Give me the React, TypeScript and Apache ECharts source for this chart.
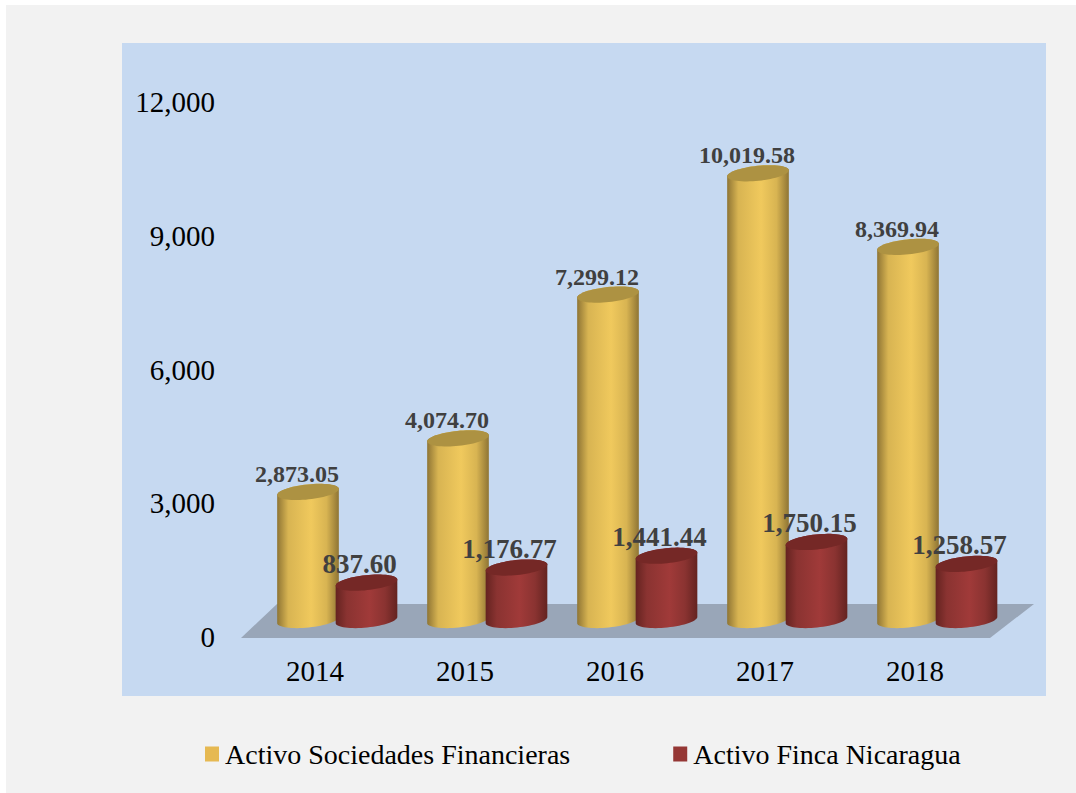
import React, { useEffect, useRef } from "react";
import * as echarts from "echarts";

const years = ["2014", "2015", "2016", "2017", "2018"];
const sociedades = [2873.05, 4074.7, 7299.12, 10019.58, 8369.94];
const finca = [837.6, 1176.77, 1441.44, 1750.15, 1258.57];
const yTicks = { max: 12000, step: 3000 };

const SERIF = "'Liberation Serif', 'Times New Roman', serif";
const DEPTH = 17; // how far the cylinders stand behind the axis plane
const RX = 31;
const RY = 7.5;
const TILT = (6 * Math.PI) / 180;

const fmt = (v: number) =>
  v.toLocaleString("en-US", { minimumFractionDigits: 2, maximumFractionDigits: 2 });

// Point on a tilted ellipse; t = 0 is the left end, t = PI the right end, t = PI/2 the lower rim.
function rim(cx: number, cy: number, t: number): [number, number] {
  const ex = -RX * Math.cos(t);
  const ey = RY * Math.sin(t);
  return [
    cx + ex * Math.cos(TILT) + ey * Math.sin(TILT),
    cy - ex * Math.sin(TILT) + ey * Math.cos(TILT),
  ];
}

function arcPoints(cx: number, cy: number, from: number, to: number, steps = 32) {
  const pts: string[] = [];
  for (let i = 0; i <= steps; i++) {
    const [x, y] = rim(cx, cy, from + ((to - from) * i) / steps);
    pts.push(`${x.toFixed(2)} ${y.toFixed(2)}`);
  }
  return pts;
}

function ellipsePath(cx: number, cy: number) {
  return "M " + arcPoints(cx, cy, 0, Math.PI * 2, 64).join(" L ") + " Z";
}

function bodyPath(cx: number, top: number, base: number) {
  const lower = arcPoints(cx, base, 0, Math.PI);
  const upper = arcPoints(cx, top, Math.PI, Math.PI * 2);
  return "M " + lower.concat(upper).join(" L ") + " Z";
}

function cylinderSeries(
  name: string,
  values: number[],
  offsetX: number,
  labelShiftX: number,
  labelShiftY: number,
  labelSize: number,
  legendColor: string,
  edge: string,
  mid: string,
  peak: string,
  lid: string,
  z: number
) {
  return {
    type: "custom",
    name,
    z,
    clip: false,
    silent: true,
    itemStyle: { color: legendColor },
    encode: { x: 0, y: 1 },
    data: values.map((v, i) => [i, v]),
    renderItem: (_params: any, api: any) => {
      const idx = api.value(0);
      const val = api.value(1);
      const [x0, y0] = api.coord([idx, 0]);
      const [, yv] = api.coord([idx, val]);
      const cx = x0 + offsetX;
      const base = y0 - DEPTH;
      const top = yv - DEPTH;
      return {
        type: "group",
        children: [
          {
            type: "path",
            shape: { pathData: bodyPath(cx, top, base) },
            style: {
              fill: {
                type: "linear",
                x: 0,
                y: 0,
                x2: 1,
                y2: 0,
                colorStops: [
                  { offset: 0, color: edge },
                  { offset: 0.18, color: mid },
                  { offset: 0.55, color: peak },
                  { offset: 0.8, color: mid },
                  { offset: 1, color: edge },
                ],
              },
            },
          },
          {
            type: "path",
            shape: { pathData: ellipsePath(cx, top) },
            style: { fill: lid },
          },
          {
            type: "text",
            z2: 50,
            style: {
              x: cx + labelShiftX,
              y: top + labelShiftY,
              text: fmt(val),
              align: "center",
              verticalAlign: "middle",
              fill: "#404040",
              font: `bold ${labelSize}px ${SERIF}`,
            },
          },
        ],
      };
    },
  };
}

export default function App() {
  const ref = useRef<HTMLDivElement>(null);

  useEffect(() => {
    const chart = echarts.init(ref.current!, null, { renderer: "svg" });
    chart.setOption({
      animation: false,
      backgroundColor: "#ffffff",
      graphic: [
        { type: "rect", z: -10, shape: { x: 6, y: 5, width: 1070, height: 788 }, style: { fill: "#f2f2f2" } },
        { type: "rect", z: -9, shape: { x: 122, y: 43, width: 924, height: 653 }, style: { fill: "#c6d9f1" } },
      ],
      grid: { left: 240, top: 102, width: 750, height: 535 },
      legend: {
        left: 200,
        top: 735,
        icon: "rect",
        itemWidth: 14,
        itemHeight: 15,
        itemGap: 103,
        data: ["Activo Sociedades Financieras", "Activo Finca Nicaragua"],
        textStyle: {
          fontFamily: SERIF,
          fontSize: 28,
          color: "#000000",
          padding: [0, 0, 0, 1],
        },
      },
      xAxis: {
        type: "category",
        data: years,
        axisLine: { show: false },
        axisTick: { show: false },
        axisLabel: { fontFamily: SERIF, fontSize: 29, color: "#000000", margin: 19 },
      },
      yAxis: {
        type: "value",
        min: 0,
        max: yTicks.max,
        interval: yTicks.step,
        splitLine: { show: false },
        axisLine: { show: false },
        axisTick: { show: false },
        axisLabel: {
          fontFamily: SERIF,
          fontSize: 29,
          color: "#000000",
          margin: 25,
          formatter: (v: number) => v.toLocaleString("en-US"),
        },
      },
      series: [
        {
          // grey floor of the 3D plot area
          type: "custom",
          name: "floor",
          z: 1,
          silent: true,
          clip: false,
          data: [[0]],
          encode: { x: 0 },
          renderItem: (params: any) => {
            const { x, y, width, height } = params.coordSys;
            const bottom = y + height + 1;
            return {
              type: "polygon",
              shape: {
                points: [
                  [x + 1, bottom],
                  [x + 37, bottom - 34],
                  [x + width + 44, bottom - 34],
                  [x + width, bottom],
                ],
              },
              style: { fill: "#99a6b8" },
            };
          },
        },
        cylinderSeries(
          "Activo Sociedades Financieras",
          sociedades,
          -7,
          -11,
          -18,
          24,
          "#e6b952",
          "#8f7534",
          "#d8b452",
          "#f0c95d",
          "#ad9242",
          2
        ),
        cylinderSeries(
          "Activo Finca Nicaragua",
          finca,
          51.5,
          -7,
          -19,
          27,
          "#953735",
          "#642320",
          "#8a3331",
          "#a03a39",
          "#752826",
          3
        ),
      ],
    });
    return () => chart.dispose();
  }, []);

  return (
    <div
      ref={ref}
      style={{ position: "absolute", left: 0, top: 0, width: 1076, height: 793 }}
    />
  );
}
